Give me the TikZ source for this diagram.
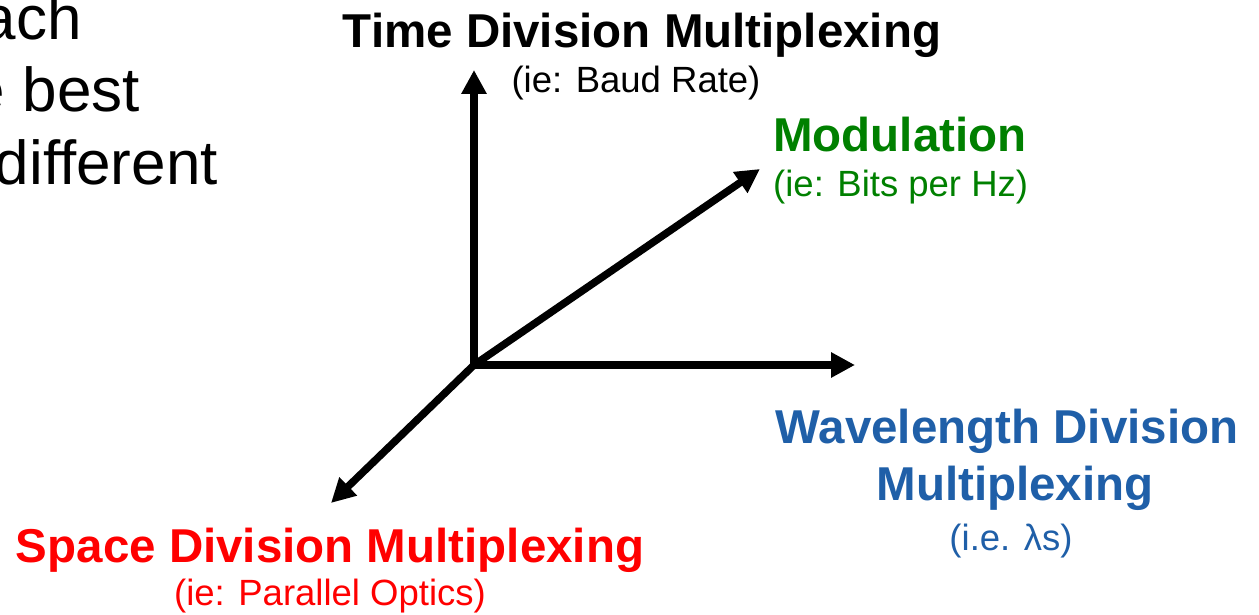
\documentclass[tikz,border=0pt]{standalone}
\usepackage{fontspec}
\setmainfont{Liberation Sans}
\usetikzlibrary{arrows.meta}
\definecolor{modgreen}{RGB}{0,128,0}
\definecolor{wdmblue}{RGB}{31,95,168}
\definecolor{sdmred}{RGB}{255,0,0}
\tikzset{
  axis/.style={line width=7.5bp, draw=black, -{Triangle[length=24bp,width=24bp]}},
  head/.style={inner sep=0pt, anchor=base, font=\fontsize{47.5bp}{57bp}\selectfont\bfseries},
  sub/.style={inner sep=0pt, anchor=base, font=\fontsize{36.5bp}{44bp}\selectfont},
  bigtext/.style={inner sep=0pt, anchor=base east, font=\fontsize{62bp}{72bp}\selectfont}
}
\begin{document}
\begin{tikzpicture}[x=1bp,y=-1bp]
\useasboundingbox (0,0) rectangle (1259,615);
% left clipped body text
\node[bigtext] (l1) at (82,40) {ach};
\node[bigtext] (l2) at (140,112) {e best};
\node[bigtext] (l3) at (218,185) {different};
% axes
\coordinate (O) at (474,365);
\coordinate (T) at (474,70);
\coordinate (M) at (760,169);
\coordinate (W) at (855,365);
\coordinate (S) at (331,503);
\draw[axis] (O) -- (T);
\draw[axis] (O) -- (M);
\draw[axis] (O) -- (W);
\draw[axis] (O) -- (S);
% labels
\node[head] (tdm) at (642,48) {Time Division Multiplexing};
\node[sub] (tdms) at (636,93) {(ie: Baud Rate)};
\node[head, anchor=base west, text=modgreen] (mod) at (773,152) {Modulation};
\node[sub, anchor=base west, text=modgreen] (mods) at (773,197) {(ie: Bits per Hz)};
\node[head, text=wdmblue] (wdm1) at (1007,443) {Wavelength Division};
\node[head, text=wdmblue] (wdm2) at (1015,500) {Multiplexing};
\node[sub, text=wdmblue] (wdms) at (1011,550) {(i.e. λs)};
\node[head, text=sdmred] (sdm) at (330,562) {Space Division Multiplexing};
\node[sub, text=sdmred] (sdms) at (330,605) {(ie: Parallel Optics)};
\end{tikzpicture}
\end{document}
